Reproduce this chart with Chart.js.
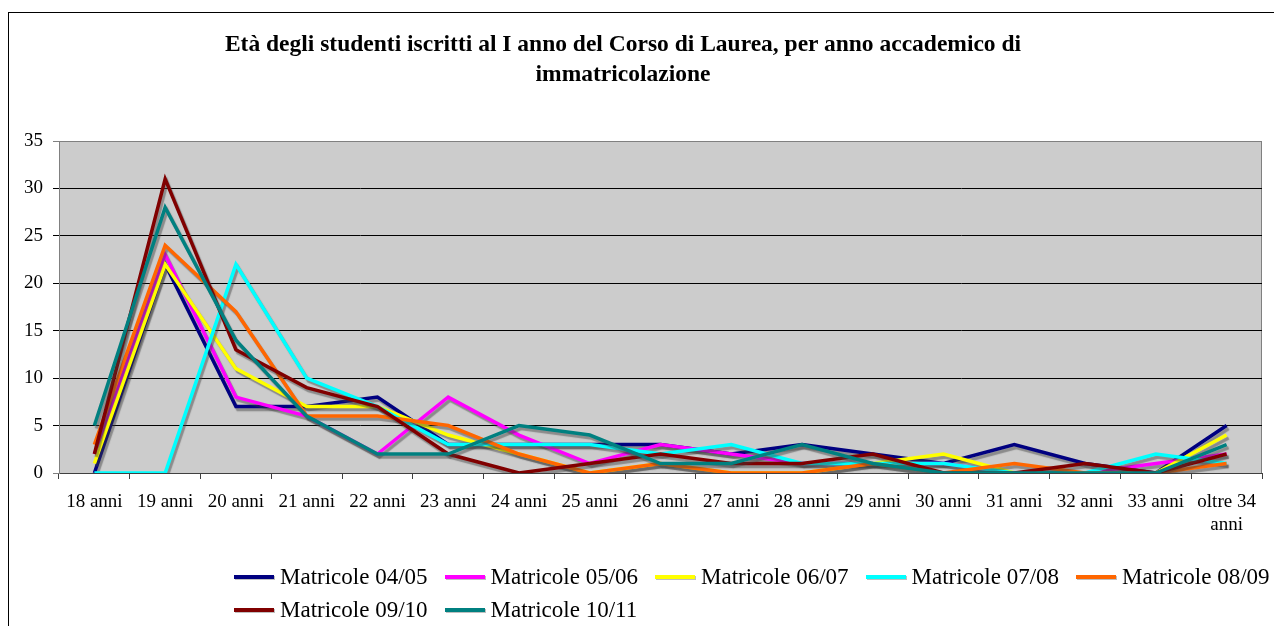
<!DOCTYPE html>
<html>
  <head>
    <title>Età degli studenti</title>
    <meta charset="UTF-8">
    <script src="https://cdn.jsdelivr.net/npm/chart.js"></script>
    <style type="text/css">
      body { margin: 0; background: #fff; font-family: "Liberation Serif", serif; }
      #wrap { position: relative; width: 1274px; height: 626px; overflow: hidden; }
      #frame { position: absolute; left: 8px; top: 12px; width: 1400px; height: 800px; border: 1px solid #000; }
      #chart { position: absolute; left: 0; top: 0; }
      #title { position: absolute; left: 0; width: 1246px; top: 28px; text-align: center;
               font-weight: bold; font-size: 23.5px; line-height: 30px; color: #000; }
      #legend { position: absolute; left: 234px; top: 560px; display: grid;
                grid-template-columns: repeat(5, 210.5px); grid-auto-rows: 33px; }
      .item { display: flex; align-items: center; font-size: 23px; color: #000; white-space: nowrap; }
      .swatch { width: 40px; height: 4px; margin-right: 6px; box-shadow: 1px 1px 0 rgba(0,0,0,0.25); }
    </style>
  </head>
  <body>
    <div id="wrap">
      <div id="frame"></div>
      <canvas id="chart" width="1274" height="626"></canvas>
      <div id="title">Età degli studenti iscritti al I anno del Corso di Laurea, per anno accademico di<br>immatricolazione</div>
      <div id="legend"></div>
    </div>

    <script type="text/javascript">
      const ages = ["18 anni", "19 anni", "20 anni", "21 anni", "22 anni", "23 anni", "24 anni", "25 anni",
                    "26 anni", "27 anni", "28 anni", "29 anni", "30 anni", "31 anni", "32 anni", "33 anni",
                    ["oltre 34", "anni"]]

      const seriesNames = ["Matricole 04/05", "Matricole 05/06", "Matricole 06/07", "Matricole 07/08",
                           "Matricole 08/09", "Matricole 09/10", "Matricole 10/11"]
      const seriesColours = ["#000080", "#ff00ff", "#ffff00", "#00ffff", "#ff6600", "#800000", "#008080"]

      const m0405 = [0, 22, 7, 7, 8, 3, 3, 3, 3, 2, 3, 2, 1, 3, 1, 0, 5]
      const m0506 = [2, 23, 8, 6, 2, 8, 4, 1, 3, 2, 1, 1, 1, 0, 0, 1, 2]
      const m0607 = [1, 22, 11, 7, 7, 4, 2, 0, 1, 0, 0, 1, 2, 0, 0, 0, 4]
      const m0708 = [0, 0, 22, 10, 7, 3, 3, 3, 2, 3, 1, 1, 1, 0, 0, 2, 1]
      const m0809 = [3, 24, 17, 6, 6, 5, 2, 0, 1, 0, 0, 1, 0, 1, 0, 0, 1]
      const m0910 = [2, 31, 13, 9, 7, 2, 0, 1, 2, 1, 1, 2, 0, 0, 1, 0, 2]
      const m1011 = [5, 28, 14, 6, 2, 2, 5, 4, 1, 1, 3, 1, 0, 0, 0, 0, 3]

      const allSeries = [m0405, m0506, m0607, m0708, m0809, m0910, m1011]
      const yTicks = [0, 5, 10, 15, 20, 25, 30, 35]

      // grey plot area + drop shadow under the lines (Excel look)
      const plotLook = {
        id: 'plotLook',
        beforeDraw(chart) {
          const {ctx, chartArea: a} = chart
          ctx.save()
          ctx.fillStyle = '#cccccc'
          ctx.fillRect(a.left, a.top, a.right - a.left, a.bottom - a.top)
          ctx.strokeStyle = '#808080'
          ctx.lineWidth = 1
          ctx.strokeRect(a.left + 0.5, a.top + 0.5, a.right - a.left - 1, a.bottom - a.top)
          ctx.restore()
        },
        beforeDatasetsDraw(chart) {
          const ctx = chart.ctx
          ctx.save()
          ctx.shadowColor = 'rgba(60,60,60,0.45)'
          ctx.shadowOffsetX = 2
          ctx.shadowOffsetY = 3
          ctx.shadowBlur = 1
        },
        afterDatasetsDraw(chart) {
          chart.ctx.restore()
        }
      }

      const tickFont = { family: '"Liberation Serif", serif', size: 19 }

      new Chart(document.getElementById("chart"), {
        type: 'line',
        data: {
          labels: ages,
          datasets: allSeries.map((vals, i) => ({
            label: seriesNames[i],
            data: vals,
            borderColor: seriesColours[i],
            backgroundColor: seriesColours[i],
            borderWidth: 3.5,
            pointRadius: 0,
            tension: 0,
            order: -i
          }))
        },
        options: {
          responsive: false,
          animation: false,
          layout: { padding: { left: 0, top: 141, right: 12, bottom: 0 } },
          plugins: {
            legend: { display: false },
            title: { display: false },
            tooltip: { enabled: false }
          },
          scales: {
            x: {
              offset: true,
              afterFit: s => { s.height = 153 },
              grid: { offset: true, drawOnChartArea: false, drawTicks: true, tickLength: 6, color: '#404040' },
              border: { color: '#404040', width: 1 },
              ticks: { color: '#000', font: tickFont, padding: 12, maxRotation: 0, autoSkip: false }
            },
            y: {
              min: 0,
              max: 35,
              afterFit: s => { s.width = 59 },
              afterBuildTicks: s => { s.ticks = yTicks.map(v => ({ value: v })) },
              grid: {
                color: c => (c.tick && (c.tick.value === 35 || c.tick.value === 0)) ? '#808080' : '#000',
                tickLength: 6
              },
              border: { color: '#808080', width: 1 },
              ticks: { color: '#000', font: tickFont, padding: 10 }
            }
          }
        },
        plugins: [plotLook]
      })

      // legend laid out like the original (fixed columns, two rows)
      const legend = document.getElementById("legend")
      seriesNames.forEach((name, i) => {
        const item = document.createElement("div")
        item.className = "item"
        item.innerHTML = '<span class="swatch" style="background:' + seriesColours[i] + '"></span>' + name
        legend.appendChild(item)
      })
    </script>
  </body>
</html>
